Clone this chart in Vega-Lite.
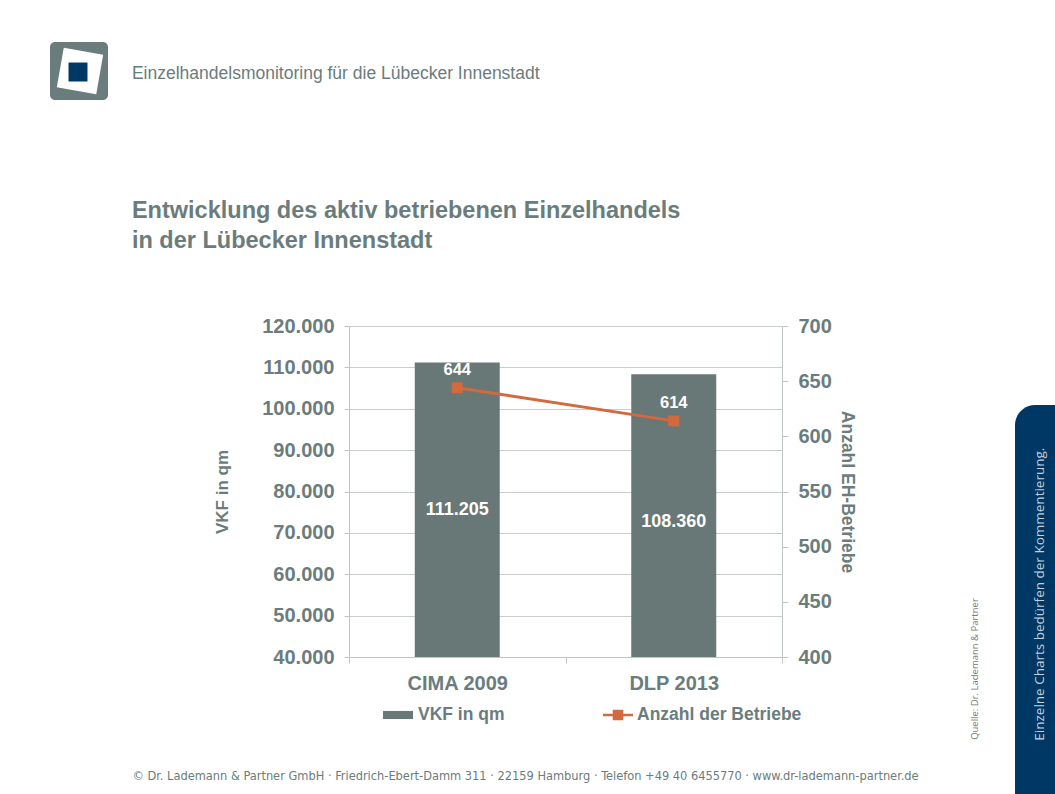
{
  "$schema": "https://vega.github.io/schema/vega-lite/v6.json",
  "autosize": {"type": "pad"},
  "padding": {"left": 50, "top": 42, "right": 0, "bottom": 0},
  "background": "white",
  "hconcat": [
    {
      "width": 433,
      "height": 331,
      "data": {"values": [
        {"Erhebung": "CIMA 2009", "VKF": 111205, "Betriebe": 644},
        {"Erhebung": "DLP 2013", "VKF": 108360, "Betriebe": 614}
      ]},
      "title": {
        "text": "Einzelhandelsmonitoring für die Lübecker Innenstadt",
        "subtitle": ["Entwicklung des aktiv betriebenen Einzelhandels", "in der Lübecker Innenstadt"],
        "anchor": "start",
        "frame": "bounds",
        "dx": 0,
        "offset": 64,
        "font": "Liberation Sans",
        "fontSize": 17.5,
        "fontWeight": "normal",
        "color": "#6b7c7c",
        "subtitleFont": "Liberation Sans",
        "subtitleFontSize": 23.5,
        "subtitleFontWeight": "bold",
        "subtitleColor": "#6b7c7c",
        "subtitleLineHeight": 30,
        "subtitlePadding": 116
      },
      "encoding": {
        "x": {
          "field": "Erhebung",
          "type": "nominal",
          "sort": null,
          "scale": {"paddingInner": 0, "paddingOuter": 0},
          "axis": {
            "labelAngle": 0,
            "labelFontSize": 20,
            "labelFontWeight": "bold",
            "labelColor": "#6b7c7c",
            "labelPadding": 10,
            "tickBand": "extent",
            "tickSize": 6,
            "tickColor": "#bfc4c4",
            "domainColor": "#bfc4c4",
            "title": "© Dr. Lademann & Partner GmbH · Friedrich-Ebert-Damm 311 · 22159 Hamburg · Telefon +49 40 6455770 · www.dr-lademann-partner.de",
            "titleFont": "DejaVu Sans Condensed",
            "titleFontSize": 12.7,
            "titleFontWeight": "normal",
            "titleColor": "#6b7c7c",
            "titlePadding": 76,
            "titleX": 176,
            "titleLimit": 1000
          }
        }
      },
      "layer": [
        {
          "encoding": {
            "y": {
              "field": "VKF",
              "type": "quantitative",
              "scale": {"domain": [40000, 120000], "zero": false, "nice": false},
              "axis": {
                "orient": "left",
                "values": [40000, 50000, 60000, 70000, 80000, 90000, 100000, 110000, 120000],
                "format": ",d",
                "grid": true,
                "gridColor": "#c9cdcd",
                "domainColor": "#bfc4c4",
                "tickColor": "#bfc4c4",
                "tickSize": 5,
                "labelFontSize": 20,
                "labelFontWeight": "bold",
                "labelColor": "#6b7c7c",
                "labelPadding": 10,
                "title": "VKF in qm",
                "titleFontSize": 17,
                "titleFontWeight": "bold",
                "titleColor": "#6b7c7c",
                "titlePadding": 30
              }
            }
          },
          "layer": [
            {
              "mark": {"type": "bar", "size": 85, "clip": true},
              "encoding": {
                "color": {
                  "datum": "VKF in qm",
                  "type": "nominal",
                  "scale": {"range": ["#687876"]},
                  "legend": {
                    "orient": "none",
                    "legendX": 34,
                    "legendY": 374,
                    "title": null,
                    "symbolType": "M-1,-0.27H1V0.27H-1Z",
                    "symbolSize": 900,
                    "symbolStrokeWidth": 0,
                    "labelFontSize": 17.5,
                    "labelFontWeight": "bold",
                    "labelColor": "#6b7c7c",
                    "labelOffset": 5,
                    "labelLimit": 300
                  }
                }
              }
            },
            {
              "mark": {"type": "text", "dy": 148, "color": "white", "fontSize": 18, "fontWeight": "bold", "baseline": "middle"},
              "encoding": {"text": {"field": "VKF", "type": "quantitative", "format": ",d"}}
            }
          ]
        },
        {
          "encoding": {
            "y": {
              "field": "Betriebe",
              "type": "quantitative",
              "scale": {"domain": [400, 700], "zero": false, "nice": false},
              "axis": {
                "orient": "right",
                "values": [400, 450, 500, 550, 600, 650, 700],
                "grid": false,
                "domainColor": "#bfc4c4",
                "tickColor": "#bfc4c4",
                "tickSize": 6,
                "labelFontSize": 20,
                "labelFontWeight": "bold",
                "labelColor": "#6b7c7c",
                "labelPadding": 10,
                "title": "Anzahl EH-Betriebe",
                "titleFontSize": 17.5,
                "titleFontWeight": "bold",
                "titleColor": "#6b7c7c",
                "titlePadding": 6
              }
            }
          },
          "layer": [
            {
              "mark": {"type": "line", "strokeWidth": 3, "point": {"shape": "square", "size": 121, "filled": true}},
              "encoding": {
                "color": {
                  "datum": "Anzahl der Betriebe",
                  "type": "nominal",
                  "scale": {"range": ["#d2693f"]},
                  "legend": {
                    "orient": "none",
                    "legendX": 254,
                    "legendY": 374,
                    "title": null,
                    "symbolType": "M-1,-0.08H1V0.08H-1Z M-0.35,-0.35H0.35V0.35H-0.35Z",
                    "symbolSize": 900,
                    "symbolStrokeWidth": 0,
                    "labelFontSize": 17.5,
                    "labelFontWeight": "bold",
                    "labelColor": "#6b7c7c",
                    "labelOffset": 4,
                    "labelLimit": 300
                  }
                }
              }
            },
            {
              "mark": {"type": "text", "dy": -18, "color": "white", "fontSize": 16.5, "fontWeight": "bold", "baseline": "middle"},
              "encoding": {"text": {"field": "Betriebe", "type": "quantitative"}}
            }
          ]
        }
      ],
      "resolve": {"scale": {"y": "independent", "color": "independent"}}
    },
    {
      "width": 40,
      "height": 468,
      "data": {"values": [
        {"Hinweis": "Einzelne Charts bedürfen der Kommentierung.", "Quelle": "Quelle:  Dr. Lademann  & Partner"}
      ]},
      "layer": [
        {
          "mark": {"type": "rect", "color": "#003865", "cornerRadiusTopLeft": 30},
          "encoding": {
            "x": {"datum": 0, "type": "quantitative", "scale": {"domain": [0, 1], "nice": false, "zero": false}, "axis": null},
            "x2": {"datum": 1},
            "y": {"datum": 0, "type": "quantitative", "scale": {"domain": [0, 1], "nice": false, "zero": false}, "axis": null},
            "y2": {"datum": 0.831}
          }
        },
        {
          "mark": {"type": "text", "angle": 270, "font": "Open Sans", "fontSize": 13.5, "color": "#c3d0dc", "baseline": "middle", "align": "center"},
          "encoding": {
            "x": {"datum": 0.625, "type": "quantitative"},
            "y": {"datum": 0.427, "type": "quantitative"},
            "text": {"field": "Hinweis"}
          }
        },
        {
          "mark": {"type": "text", "angle": 270, "font": "Open Sans", "fontSize": 9.5, "color": "#777777", "baseline": "middle", "align": "center"},
          "encoding": {
            "x": {"datum": -1, "type": "quantitative"},
            "y": {"datum": 0.267, "type": "quantitative"},
            "text": {"field": "Quelle"}
          }
        },
        {
          "mark": {"type": "rect", "color": "#6b7c7c", "cornerRadius": 5},
          "encoding": {
            "x": {"datum": -24.125, "type": "quantitative"},
            "x2": {"datum": -22.675},
            "y": {"datum": 1.6068, "type": "quantitative"},
            "y2": {"datum": 1.4829}
          }
        },
        {
          "mark": {"type": "point", "shape": "square", "filled": true, "color": "white", "opacity": 1, "size": 1600, "angle": 10},
          "encoding": {
            "x": {"datum": -23.375, "type": "quantitative"},
            "y": {"datum": 1.5449, "type": "quantitative"}
          }
        },
        {
          "mark": {"type": "point", "shape": "square", "filled": true, "color": "#003865", "opacity": 1, "size": 360},
          "encoding": {
            "x": {"datum": -23.425, "type": "quantitative"},
            "y": {"datum": 1.5427, "type": "quantitative"}
          }
        }
      ]
    }
  ],
  "spacing": 233,
  "bounds": "flush",
  "config": {
    "view": {"stroke": null},
    "font": "Liberation Sans",
    "locale": {"number": {"decimal": ",", "thousands": ".", "grouping": [3], "currency": ["", " €"]}}
  }
}
